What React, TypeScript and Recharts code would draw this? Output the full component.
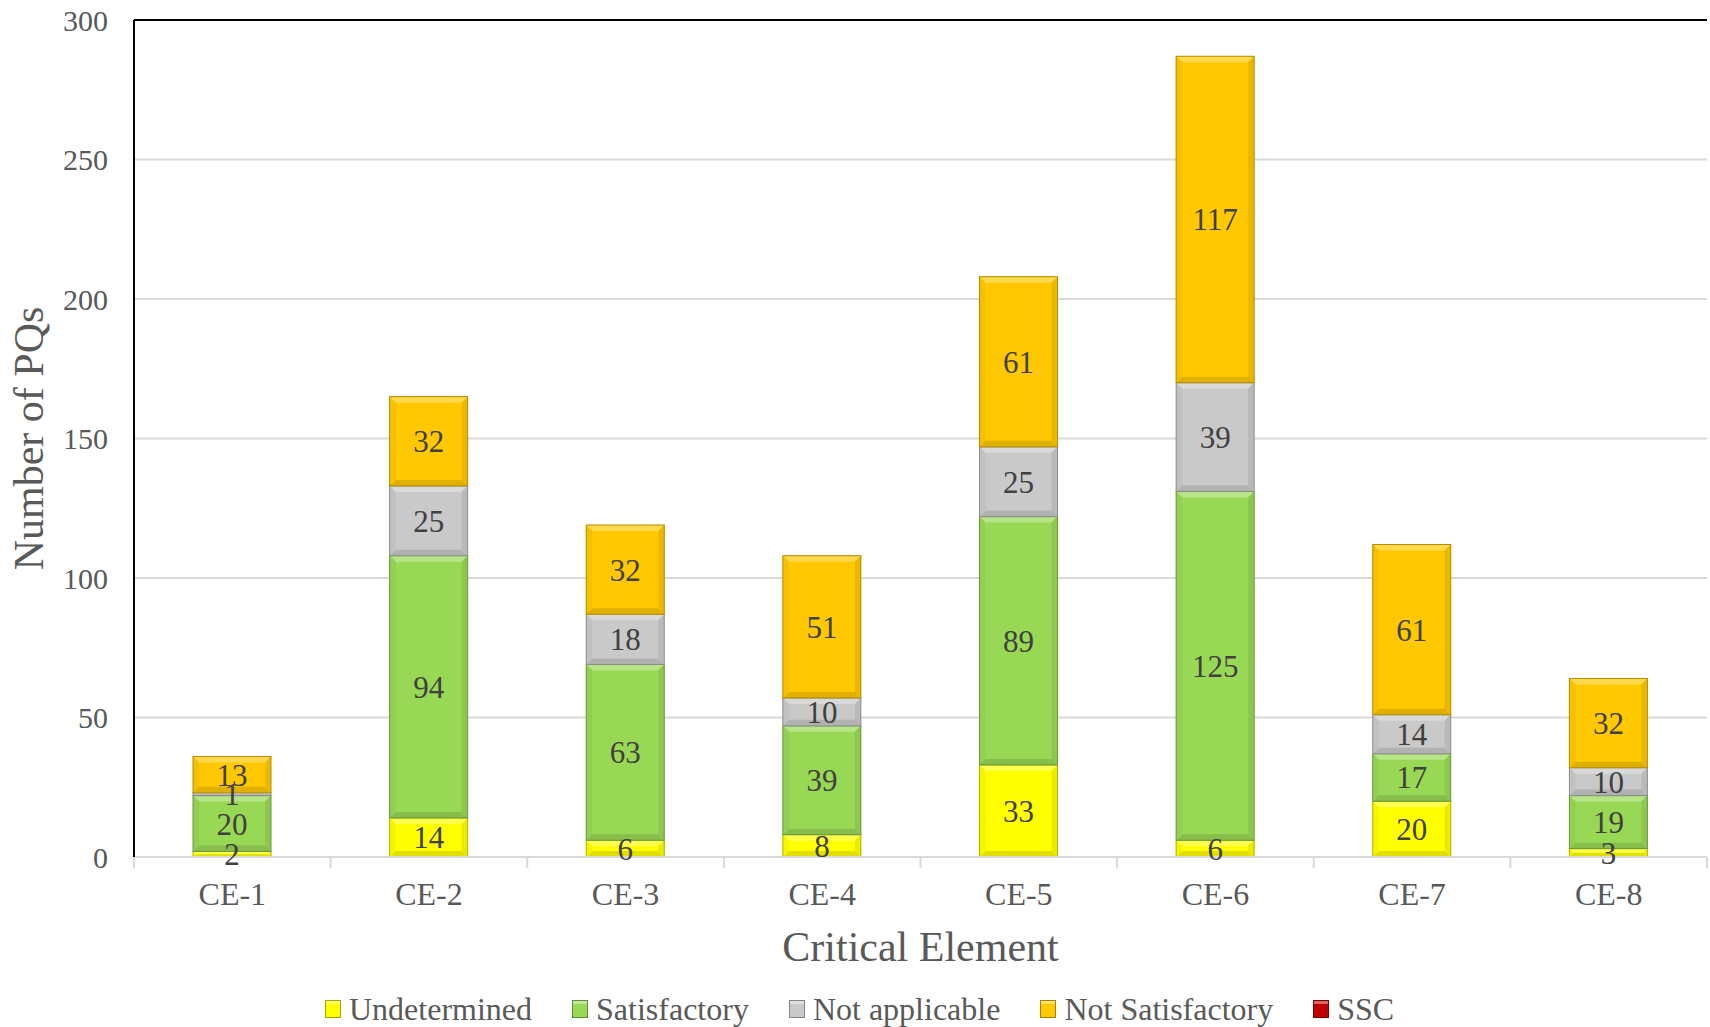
import { BarChart, Bar, XAxis, YAxis, CartesianGrid, LabelList, ReferenceLine, Label } from 'recharts';

// categories and series values
const categories = ['CE-1', 'CE-2', 'CE-3', 'CE-4', 'CE-5', 'CE-6', 'CE-7', 'CE-8'];
const undetermined = [2, 14, 6, 8, 33, 6, 20, 3];
const satisfactory = [20, 94, 63, 39, 89, 125, 17, 19];
const notApplicable = [1, 25, 18, 10, 25, 39, 14, 10];
const notSatisfactory = [13, 32, 32, 51, 61, 117, 61, 32];
const ssc = [0, 0, 0, 0, 0, 0, 0, 0];
const yTicks = [0, 50, 100, 150, 200, 250, 300];

const series = [
  { key: 'undetermined', name: 'Undetermined', values: undetermined, color: '#FFFF00' },
  { key: 'satisfactory', name: 'Satisfactory', values: satisfactory, color: '#99D855' },
  { key: 'notApplicable', name: 'Not applicable', values: notApplicable, color: '#C9C9C9' },
  { key: 'notSatisfactory', name: 'Not Satisfactory', values: notSatisfactory, color: '#FFC800' },
  { key: 'ssc', name: 'SSC', values: ssc, color: '#C00000' },
];

const data = categories.map((name, i) => {
  const row: Record<string, string | number> = { name };
  series.forEach((s) => (row[s.key] = s.values[i]));
  return row;
});

const FONT = '"Liberation Serif", "Times New Roman", serif';

function shade(hex: string, amt: number) {
  const n = parseInt(hex.slice(1), 16);
  let r = (n >> 16) & 255, g = (n >> 8) & 255, b = n & 255;
  const t = amt < 0 ? 0 : 255;
  const p = Math.abs(amt);
  r = Math.round(r + (t - r) * p);
  g = Math.round(g + (t - g) * p);
  b = Math.round(b + (t - b) * p);
  return `rgb(${r},${g},${b})`;
}

// bevelled bar, like the office "bevel" effect
function BevelBar(props: any) {
  const { x, y, width, height, fill } = props;
  if (!height || height <= 0 || !width) return null;
  const b = Math.min(6, height / 2, width / 2);
  const w = width, h = height;
  return (
    <g>
      <rect x={x} y={y} width={w} height={h} fill={fill} />
      <polygon points={`${x},${y} ${x + w},${y} ${x + w - b},${y + b} ${x + b},${y + b}`} fill={shade(fill, 0.3)} />
      <polygon points={`${x},${y + h} ${x + w},${y + h} ${x + w - b},${y + h - b} ${x + b},${y + h - b}`} fill={shade(fill, -0.12)} />
      <polygon points={`${x},${y} ${x + b},${y + b} ${x + b},${y + h - b} ${x},${y + h}`} fill={shade(fill, -0.04)} />
      <polygon points={`${x + w},${y} ${x + w - b},${y + b} ${x + w - b},${y + h - b} ${x + w},${y + h}`} fill={shade(fill, -0.08)} />
      <rect x={x} y={y} width={w} height={h} fill="none" stroke={shade(fill, -0.3)} strokeWidth={1} />
    </g>
  );
}

function CategoryTick(props: any) {
  const { x, y, payload, index, visibleTicksCount } = props;
  const half = payload.offset || 0;
  return (
    <g>
      <line x1={x - half} y1={y} x2={x - half} y2={y + 11} stroke="#d9d9d9" strokeWidth={2} />
      {index === visibleTicksCount - 1 && (
        <line x1={x + half} y1={y} x2={x + half} y2={y + 11} stroke="#d9d9d9" strokeWidth={2} />
      )}
      <text x={x} y={y + 37} textAnchor="middle" dominantBaseline="central" fill="#595959" fontSize={32} fontFamily={FONT}>
        {payload.value}
      </text>
    </g>
  );
}

export default function App() {
  return (
    <div style={{ position: 'absolute', left: 0, top: 0, width: 1710, height: 1027, background: '#fff' }}>
      <BarChart width={1710} height={1027} data={data} margin={{ top: 20, right: 3, left: 0, bottom: 70 }} barSize={78}>
        <CartesianGrid vertical={false} stroke="#d9d9d9" strokeWidth={2} />
        <XAxis
          dataKey="name"
          height={100}
          axisLine={{ stroke: '#d9d9d9', strokeWidth: 2 }}
          tickLine={false}
          tickSize={0}
          tickMargin={0}
          tick={<CategoryTick />}
          interval={0}
        >
          <Label
            content={({ viewBox }: any) => (
              <text x={viewBox.x + viewBox.width / 2} y={947} textAnchor="middle" dominantBaseline="central" fill="#595959" fontSize={42} fontFamily={FONT}>
                Critical Element
              </text>
            )}
          />
        </XAxis>
        <YAxis
          width={134}
          domain={[0, 300]}
          ticks={yTicks}
          axisLine={{ stroke: '#000', strokeWidth: 2 }}
          tickLine={false}
          tickSize={0}
          tickMargin={26}
          tick={{ fill: '#595959', fontSize: 30, fontFamily: FONT }}
        >
          <Label
            content={({ viewBox }: any) => {
              const cy = viewBox.y + viewBox.height / 2;
              return (
                <text x={29} y={cy} transform={`rotate(-90, 29, ${cy})`} textAnchor="middle" dominantBaseline="central" fill="#595959" fontSize={42} fontFamily={FONT}>
                  Number of PQs
                </text>
              );
            }}
          />
        </YAxis>
        <YAxis yAxisId="right" orientation="right" width={0} domain={[0, 300]} axisLine={{ stroke: '#000', strokeWidth: 2 }} tick={false} tickLine={false} />
        <ReferenceLine y={300} stroke="#000" strokeWidth={2} />
        {series.map((s) => (
          <Bar key={s.key} dataKey={s.key} name={s.name} stackId="a" fill={s.color} shape={<BevelBar />} isAnimationActive={false}>
            {s.key !== 'ssc' && (
              <LabelList dataKey={s.key} position="center" fill="#404040" fontSize={31} fontFamily={FONT} />
            )}
          </Bar>
        ))}
      </BarChart>
      <div
        style={{
          position: 'absolute',
          left: 325,
          top: 991,
          display: 'flex',
          alignItems: 'center',
          gap: 40,
          fontFamily: FONT,
          fontSize: 32,
          color: '#595959',
          lineHeight: '36px',
        }}
      >
        {series.map((s) => (
          <div key={s.key} style={{ display: 'flex', alignItems: 'center' }}>
            <span
              style={{
                display: 'inline-block',
                width: 14,
                height: 16,
                marginRight: 8,
                background: s.color,
                border: `1px solid ${shade(s.color, -0.35)}`,
                boxShadow: `inset 0 3px 0 ${shade(s.color, 0.4)}`,
              }}
            />
            <span>{s.name}</span>
          </div>
        ))}
      </div>
    </div>
  );
}
